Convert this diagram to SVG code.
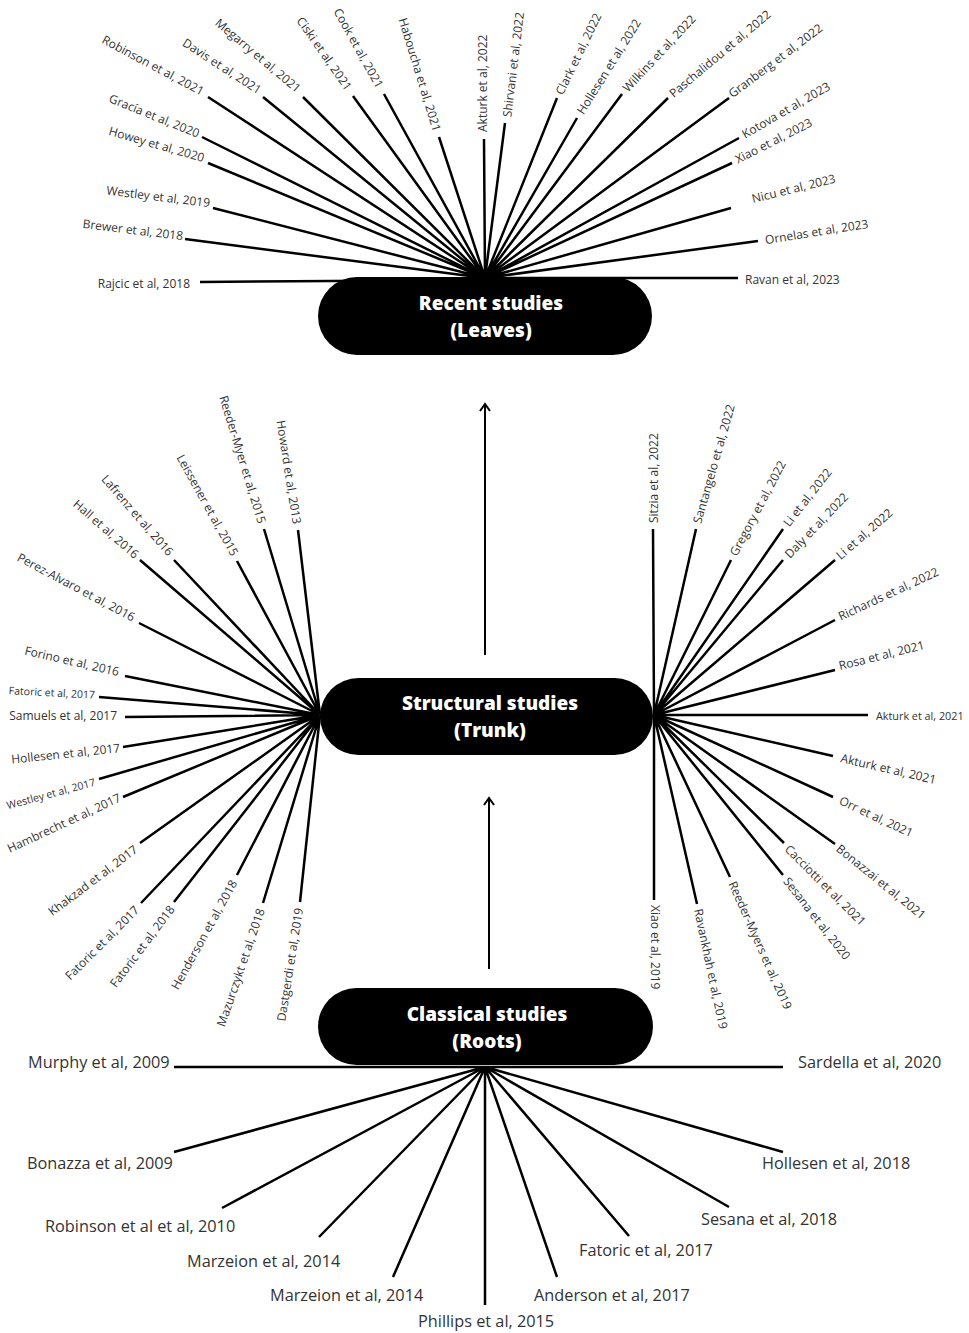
<svg xmlns="http://www.w3.org/2000/svg" width="969" height="1333" viewBox="0 0 969 1333">
<style>
.bg{fill:#fff}
.ln{stroke:#000;stroke-width:2.5;fill:none;stroke-linecap:butt}
.ar{stroke:#000;stroke-width:2;fill:none}
.pill{fill:#000}
.tt{font-family:"Open Sans","DejaVu Sans",sans-serif;font-size:19px;font-weight:800;fill:#fff;text-anchor:middle}
.lb{font-family:"Open Sans","DejaVu Sans",sans-serif;font-size:12px;fill:#333}
.sm{font-size:10.5px}
.xs{font-size:10.8px}
.bl{font-family:"Open Sans","DejaVu Sans",sans-serif;font-size:16.3px;fill:#333}
.e{text-anchor:end}
.s{text-anchor:start}
</style>
<defs>
<marker id="ah" viewBox="-9 -7 11 14" refX="0" refY="0" markerWidth="11" markerHeight="14" markerUnits="userSpaceOnUse" orient="auto" overflow="visible">
<polyline points="-7,-5 0,0 -7,5" fill="none" stroke="#000" stroke-width="2"/>
</marker>
</defs>
<rect class="bg" x="0" y="0" width="969" height="1333"/>

<g id="connectors">
<!-- Leaves fan (hub 485,278) -->
<path class="ln" d="M485,280 L200,282 M485,278 L185,239 M485,278 L213,208 M485,278 L208,163 M485,278 L202,137 M485,278 L208,97 M485,278 L263,97 M485,278 L303,97 M485,278 L353,96 M485,278 L384,94 M485,278 L439,137 M485,278 L484,139"/>
<path class="ln" d="M485,278 L505,123 M485,278 L557,98 M485,278 L577,118 M485,278 L622,94 M485,278 L668,98 M485,278 L729,98 M485,278 L739,138 M485,278 L732,163 M485,278 L731,208 M485,278 L758,241 M485,278 L738,278"/>
<!-- Trunk left fan (hub 320,715) -->
<path class="ln" d="M320,715 L298,530 M320,715 L264,529 M320,715 L237,561 M320,715 L174,560 M320,715 L140,560 M320,715 L139,623 M320,715 L125,676 M320,715 L99,697 M320,715 L125,717 M320,715 L123,747 M320,715 L99,779 M320,715 L123,797 M320,715 L140,843 M320,715 L141,903 M320,715 L174,902 M320,715 L237,875 M320,715 L263,903 M320,715 L300,902"/>
<!-- Trunk right fan (hub 654,715) -->
<path class="ln" d="M654,715 L653,529 M654,715 L696,529 M654,715 L731,560 M654,715 L783,529 M654,715 L783,560 M654,715 L835,560 M654,715 L835,620 M654,715 L835,670 M654,715 L868,715 M654,715 L833,756 M654,715 L833,797 M654,715 L835,844 M654,715 L784,843 M654,715 L783,875 M654,715 L730,877 M654,715 L697,904 M654,715 L654,900"/>
<!-- Roots fan (hub 485,1067) -->
<path class="ln" d="M485,1067 L174,1067 M485,1067 L174,1152 M485,1067 L222,1208 M485,1067 L319,1237 M485,1067 L393,1277 M485,1067 L485,1305 M485,1067 L557,1277 M485,1067 L629,1236 M485,1067 L729,1207 M485,1067 L783,1152 M485,1067 L783,1067"/>
<!-- growth arrows -->
<path class="ar" d="M485,655 V404" marker-end="url(#ah)"/>
<path class="ar" d="M489,969 V798" marker-end="url(#ah)"/>
</g>

<g id="node-leaves">
<rect class="pill" x="318" y="277" width="334" height="78" rx="39"/>
<text class="tt" x="491" y="310">Recent studies</text>
<text class="tt" x="491" y="337">(Leaves)</text>
</g>
<g id="node-trunk">
<rect class="pill" x="320" y="678" width="333" height="77" rx="38.5"/>
<text class="tt" x="490" y="710">Structural studies</text>
<text class="tt" x="490" y="737">(Trunk)</text>
</g>
<g id="node-roots">
<rect class="pill" x="318" y="988" width="335" height="77" rx="38.5"/>
<text class="tt" x="487" y="1021">Classical studies</text>
<text class="tt" x="487" y="1048">(Roots)</text>
</g>

<g id="leaves-labels">
<g id="l-rajcic"><text class="lb e" dy=".35em" transform="translate(190,284)">Rajcic et al, 2018</text></g>
<g id="l-brewer"><text class="lb e" dy=".35em" transform="translate(183,236) rotate(7)">Brewer et al, 2018</text></g>
<g id="l-westley19"><text class="lb e" dy=".35em" transform="translate(210,203) rotate(7)">Westley et al, 2019</text></g>
<g id="l-howey"><text class="lb e" dy=".35em" transform="translate(204,158) rotate(16)">Howey et al, 2020</text></g>
<g id="l-gracia"><text class="lb e" dy=".35em" transform="translate(199,134) rotate(22)">Gracía et al, 2020</text></g>
<g id="l-robinson21"><text class="lb e" dy=".35em" transform="translate(203,92) rotate(28)">Robinson et al, 2021</text></g>
<g id="l-davis"><text class="lb e" dy=".35em" transform="translate(260,91) rotate(33)">Davis et al, 2021</text></g>
<g id="l-megarry"><text class="lb e" dy=".35em" transform="translate(299,90) rotate(40)">Megarry et al, 2021</text></g>
<g id="l-ciski"><text class="lb e" dy=".35em" transform="translate(349,89) rotate(55)">Ciski et al, 2021</text></g>
<g id="l-cook"><text class="lb e" dy=".35em" transform="translate(380,87) rotate(61)">Cook et al, 2021</text></g>
<g id="l-haboucha"><text class="lb e" dy=".35em" transform="translate(437,131) rotate(73)">Haboucha et al, 2021</text></g>
<g id="l-akturk22"><text class="lb s" dy=".35em" transform="translate(483,132) rotate(-90)">Akturk et al, 2022</text></g>
<g id="l-shirvani"><text class="lb s" dy=".35em" transform="translate(507,117) rotate(-83)">Shirvani et al, 2022</text></g>
<g id="l-clark"><text class="lb s" dy=".35em" transform="translate(559,94) rotate(-64)">Clark et al, 2022</text></g>
<g id="l-hollesen22"><text class="lb s" dy=".35em" transform="translate(580,113) rotate(-58)">Hollesen et al, 2022</text></g>
<g id="l-wilkins"><text class="lb s" dy=".35em" transform="translate(625,90) rotate(-47)">Wilkins et al, 2022</text></g>
<g id="l-paschalidou"><text class="lb s" dy=".35em" transform="translate(671,95) rotate(-40)">Paschalidou et al, 2022</text></g>
<g id="l-granberg"><text class="lb s" dy=".35em" transform="translate(730,95) rotate(-37)">Granberg et al, 2022</text></g>
<g id="l-kotova"><text class="lb s" dy=".35em" transform="translate(743,135) rotate(-30)">Kotova et al, 2023</text></g>
<g id="l-xiao23"><text class="lb s" dy=".35em" transform="translate(736,160) rotate(-27)">Xiao et al, 2023</text></g>
<g id="l-nicu"><text class="lb s" dy=".35em" transform="translate(752,199) rotate(-14)">Nicu et al, 2023</text></g>
<g id="l-ornelas"><text class="lb s" dy=".35em" transform="translate(765,240) rotate(-9)">Ornelas et al, 2023</text></g>
<g id="l-ravan"><text class="lb s" dy=".35em" transform="translate(745,280)">Ravan et al, 2023</text></g>
</g>

<g id="trunk-labels">
<g id="t-howard"><text class="lb e" dy=".35em" transform="translate(297,524) rotate(81)">Howard et al, 2013</text></g>
<g id="t-reeder15"><text class="lb e" dy=".35em" transform="translate(262,523) rotate(73)">Reeder-Myer et al, 2015</text></g>
<g id="t-leissener"><text class="lb e" dy=".35em" transform="translate(235,555) rotate(61)">Leissener et al, 2015</text></g>
<g id="t-lafrenz"><text class="lb e" dy=".35em" transform="translate(171,554) rotate(49)">Lafrenz et al, 2016</text></g>
<g id="t-hall"><text class="lb e" dy=".35em" transform="translate(137,556) rotate(41)">Hall et al, 2016</text></g>
<g id="t-perez"><text class="lb e" dy=".35em" transform="translate(134,618) rotate(28)">Perez-Alvaro et al, 2016</text></g>
<g id="t-forino"><text class="lb e" dy=".35em" transform="translate(119,672) rotate(13)">Forino et al, 2016</text></g>
<g id="t-fatoric17a"><text class="lb sm e" dy=".35em" transform="translate(95,695) rotate(3)">Fatoric et al, 2017</text></g>
<g id="t-samuels"><text class="lb e" dy=".35em" transform="translate(117,716)">Samuels et al, 2017</text></g>
<g id="t-hollesen17"><text class="lb e" dy=".35em" transform="translate(120,748) rotate(-6)">Hollesen et al, 2017</text></g>
<g id="t-westley17"><text class="lb sm e" dy=".35em" transform="translate(95,782) rotate(-15)">Westley et al, 2017</text></g>
<g id="t-hambrecht"><text class="lb e" dy=".35em" transform="translate(120,797) rotate(-25)">Hambrecht et al, 2017</text></g>
<g id="t-khakzad"><text class="lb e" dy=".35em" transform="translate(136,848) rotate(-37)">Khakzad et al, 2017</text></g>
<g id="t-fatoric17b"><text class="lb e" dy=".35em" transform="translate(137,908) rotate(-45)">Fatoric et al, 2017</text></g>
<g id="t-fatoric18"><text class="lb e" dy=".35em" transform="translate(172,907) rotate(-53)">Fatoric et al, 2018</text></g>
<g id="t-henderson"><text class="lb e" dy=".35em" transform="translate(234,881) rotate(-61)">Henderson et al, 2018</text></g>
<g id="t-mazurczykt"><text class="lb e" dy=".35em" transform="translate(261,909) rotate(-71)">Mazurczykt et al, 2018</text></g>
<g id="t-dastgerdi"><text class="lb e" dy=".35em" transform="translate(299,908) rotate(-81)">Dastgerdi et al, 2019</text></g>
<g id="t-sitzia"><text class="lb s" dy=".35em" transform="translate(654,523) rotate(-90)">Sitzia et al, 2022</text></g>
<g id="t-santangelo"><text class="lb s" dy=".35em" transform="translate(697,523) rotate(-74)">Santangelo et al, 2022</text></g>
<g id="t-gregory"><text class="lb s" dy=".35em" transform="translate(733,555) rotate(-62)">Gregory et al, 2022</text></g>
<g id="t-li22a"><text class="lb s" dy=".35em" transform="translate(786,525) rotate(-52)">Li et al, 2022</text></g>
<g id="t-daly"><text class="lb s" dy=".35em" transform="translate(787,556) rotate(-46)">Daly et al, 2022</text></g>
<g id="t-li22b"><text class="lb s" dy=".35em" transform="translate(838,557) rotate(-41)">Li et al, 2022</text></g>
<g id="t-richards"><text class="lb s" dy=".35em" transform="translate(839,617) rotate(-25)">Richards et al, 2022</text></g>
<g id="t-rosa"><text class="lb s" dy=".35em" transform="translate(839,666) rotate(-14)">Rosa et al, 2021</text></g>
<g id="t-akturk21a"><text class="lb xs s" dy=".35em" transform="translate(876,716)">Akturk et al, 2021</text></g>
<g id="t-akturk21b"><text class="lb s" dy=".35em" transform="translate(841,758) rotate(13)">Akturk et al, 2021</text></g>
<g id="t-orr"><text class="lb s" dy=".35em" transform="translate(840,800) rotate(25)">Orr et al, 2021</text></g>
<g id="t-bonazzai"><text class="lb s" dy=".35em" transform="translate(838,847) rotate(39)">Bonazzai et al, 2021</text></g>
<g id="t-cacciotti"><text class="lb s" dy=".35em" transform="translate(787,847) rotate(45)">Cacciotti et al, 2021</text></g>
<g id="t-sesana20"><text class="lb s" dy=".35em" transform="translate(786,879) rotate(52)">Sesana et al, 2020</text></g>
<g id="t-reeder19"><text class="lb s" dy=".35em" transform="translate(732,882) rotate(66)">Reeder-Myers et al, 2019</text></g>
<g id="t-ravankhah"><text class="lb s" dy=".35em" transform="translate(698,909) rotate(78)">Ravankhah et al, 2019</text></g>
<g id="t-xiao19"><text class="lb s" dy=".35em" transform="translate(655,905) rotate(90)">Xiao et al, 2019</text></g>
</g>

<g id="roots-labels">
<g id="r-murphy"><text class="bl" x="28" y="1068">Murphy et al, 2009</text></g>
<g id="r-bonazza"><text class="bl" x="27" y="1169">Bonazza et al, 2009</text></g>
<g id="r-robinson10"><text class="bl" x="45" y="1232">Robinson et al et al, 2010</text></g>
<g id="r-marzeion14a"><text class="bl" x="187" y="1267">Marzeion et al, 2014</text></g>
<g id="r-marzeion14b"><text class="bl" x="270" y="1301">Marzeion et al, 2014</text></g>
<g id="r-phillips"><text class="bl" x="418" y="1327">Phillips et al, 2015</text></g>
<g id="r-anderson"><text class="bl" x="534" y="1301">Anderson et al, 2017</text></g>
<g id="r-fatoric17"><text class="bl" x="579" y="1256">Fatoric et al, 2017</text></g>
<g id="r-sesana18"><text class="bl" x="701" y="1225">Sesana et al, 2018</text></g>
<g id="r-hollesen18"><text class="bl" x="762" y="1169">Hollesen et al, 2018</text></g>
<g id="r-sardella"><text class="bl" x="798" y="1068">Sardella et al, 2020</text></g>
</g>
</svg>
